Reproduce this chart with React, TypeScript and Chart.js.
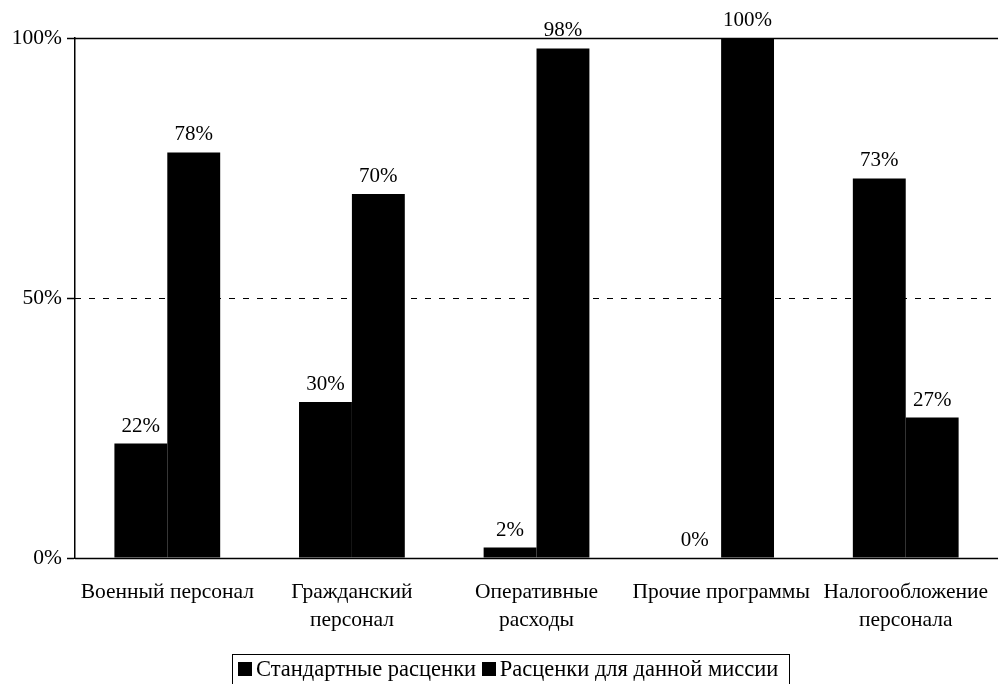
import React, { useEffect, useRef } from "react";
import { Chart, registerables } from "chart.js";

Chart.register(...registerables);

const categories: string[][] = [
  ["Военный персонал"],
  ["Гражданский", "персонал"],
  ["Оперативные", "расходы"],
  ["Прочие программы"],
  ["Налогообложение", "персонала"],
];
const standardRates = [22, 30, 2, 0, 73];
const missionRates = [78, 70, 98, 100, 27];
const seriesNames = ["Стандартные расценки", "Расценки для данной миссии"];
const yTicks = [0, 50, 100];

const FONT = "'Liberation Serif', 'Times New Roman', serif";

export default function App() {
  const ref = useRef<HTMLCanvasElement | null>(null);

  useEffect(() => {
    document.body.style.margin = "0";
    const canvas = ref.current;
    if (!canvas) return;

    const gridPlugin = {
      id: "customGrid",
      beforeDatasetsDraw(chart: any) {
        const { ctx, chartArea } = chart;
        const y = chart.scales.y;
        ctx.save();
        yTicks.forEach((v) => {
          const py = Math.round(y.getPixelForValue(v)) + 0.5;
          ctx.beginPath();
          ctx.strokeStyle = "#000";
          ctx.lineWidth = v === 50 ? 1 : 1.5;
          ctx.setLineDash(v === 50 ? [6, 8] : []);
          ctx.moveTo(chartArea.left, py);
          ctx.lineTo(chartArea.right, py);
          ctx.stroke();
        });
        ctx.restore();
      },
    };

    const labelPlugin = {
      id: "valueLabels",
      afterDatasetsDraw(chart: any) {
        const { ctx } = chart;
        ctx.save();
        ctx.fillStyle = "#000";
        ctx.font = `21px ${FONT}`;
        ctx.textAlign = "center";
        ctx.textBaseline = "bottom";
        chart.data.datasets.forEach((ds: any, di: number) => {
          const meta = chart.getDatasetMeta(di);
          meta.data.forEach((bar: any, i: number) => {
            ctx.fillText(`${ds.data[i]}%`, bar.x, bar.y - 7);
          });
        });
        ctx.restore();
      },
    };

    const chart = new Chart(canvas, {
      type: "bar",
      data: {
        labels: categories,
        datasets: [
          {
            label: seriesNames[0],
            data: standardRates,
            backgroundColor: "#000",
            borderWidth: 0,
          },
          {
            label: seriesNames[1],
            data: missionRates,
            backgroundColor: "#000",
            borderWidth: 0,
          },
        ],
      },
      options: {
        animation: false,
        responsive: false,
        devicePixelRatio: 1,
        layout: { padding: { top: 38, left: 0, right: -2, bottom: 46 } },
        plugins: {
          legend: { display: false },
          tooltip: { enabled: false },
        },
        datasets: {
          bar: { categoryPercentage: 0.573, barPercentage: 1 },
        },
        scales: {
          x: {
            grid: { display: false },
            border: { display: false },
            ticks: {
              color: "#000",
              font: { family: FONT, size: 21.5, lineHeight: 1.3 },
              padding: 12,
              maxRotation: 0,
              autoSkip: false,
            },
            afterFit(scale: any) {
              scale.height = 80;
            },
          },
          y: {
            min: 0,
            max: 100,
            afterBuildTicks(scale: any) {
              scale.ticks = yTicks.map((v) => ({ value: v }));
            },
            grid: {
              drawOnChartArea: false,
              drawTicks: true,
              tickLength: 8,
              tickColor: "#000",
              tickWidth: 1.5,
            },
            border: { display: true, color: "#000", width: 1.5 },
            ticks: {
              color: "#000",
              font: { family: FONT, size: 21.5 },
              padding: 5,
              callback: (v: any) => `${v}%`,
            },
            afterFit(scale: any) {
              scale.width = 75;
            },
          },
        },
      },
      plugins: [gridPlugin, labelPlugin],
    });

    return () => chart.destroy();
  }, []);

  const swatch: React.CSSProperties = {
    display: "inline-block",
    width: 14,
    height: 14,
    background: "#000",
    marginRight: 4,
    verticalAlign: "0px",
  };

  return (
    <div style={{ position: "relative", width: 1000, height: 684, background: "#fff", overflow: "hidden" }}>
      <canvas ref={ref} width={1000} height={684} style={{ display: "block" }} />
      <div
        style={{
          position: "absolute",
          left: 232,
          top: 654,
          width: 558,
          height: 40,
          border: "1px solid #000",
          fontFamily: FONT,
          fontSize: 22.5,
          color: "#000",
          paddingLeft: 5,
          paddingTop: 1,
          boxSizing: "border-box",
          whiteSpace: "nowrap",
          lineHeight: "26px",
        }}
      >
        <span style={swatch} />
        {seriesNames[0]}{" "}
        <span style={swatch} />
        {seriesNames[1]}
      </div>
    </div>
  );
}
